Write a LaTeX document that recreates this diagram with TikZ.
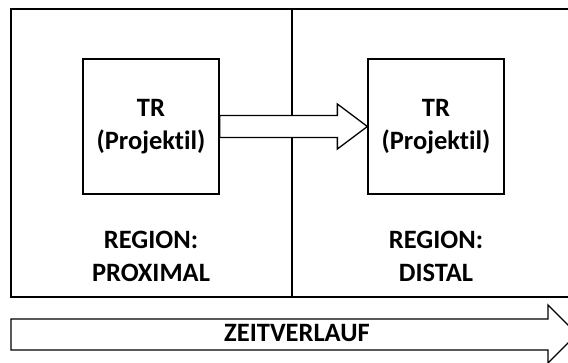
\documentclass[tikz,border=0pt]{standalone}
\RequirePackage{fontspec}
\setmainfont{Carlito}[Ligatures=NoCommon]
\RequirePackage{tikz}
\usetikzlibrary{calc}

\tikzset{
    region/.style={draw,line width=1.3pt,minimum height=288pt,inner sep=0pt},
    trbox/.style={draw,line width=1.3pt,minimum width=136pt,minimum height=135pt,
        align=center,inner sep=0pt,font=\bfseries\fontsize{26.5}{33}\selectfont},
    lab/.style={align=center,inner sep=0pt,font=\bfseries\fontsize{26.5}{33}\selectfont},
    blockarrow/.style={draw,fill=white,line width=1.3pt,line join=miter}
}

\begin{document}
\begin{tikzpicture}[x=1pt,y=-1pt]
                    \useasboundingbox (0,0) rectangle (568,363);
                    \clip (0,0) rectangle (568,363);

                    \node[region,minimum width=281pt] (proximal) at (151.5,153) {};
                    \node[region,minimum width=320pt] (distal) at (452,153) {};

                    \node[trbox] (trProx) at (151,126.5) {TR\\(Projektil)};
                    \node[trbox] (trDist) at (436,126.5) {TR\\(Projektil)};

                    \node[lab] (labProx) at (151,256.5) {REGION:\\PROXIMAL};
                    \node[lab] (labDist) at (436,256.5) {REGION:\\DISTAL};

                    \path (trDist.west) ++(-30,0) coordinate (headBase);
                    \draw[blockarrow] ($(trProx.east)+(0,-11)$) -- ($(headBase)+(0,-11)$)
                        -- ($(headBase)+(0,-22.5)$) -- (trDist.west) -- ($(headBase)+(0,22.5)$)
                        -- ($(headBase)+(0,11)$) -- ($(trProx.east)+(0,11)$) -- cycle;

                    \coordinate (zeitTip) at (577,334);
                    \draw[blockarrow] (11,319) -- (548,319) -- (548,305) -- (zeitTip)
                        -- (548,363) -- (548,350) -- (11,350) -- cycle;
                    \node[lab] (zeit) at (297,333) {ZEITVERLAUF};
                \end{tikzpicture}
\end{document}
